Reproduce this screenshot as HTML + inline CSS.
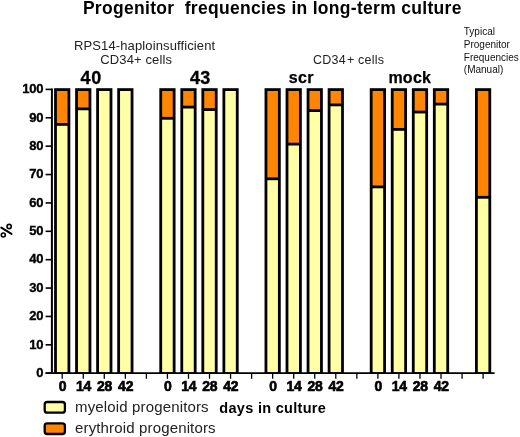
<!DOCTYPE html>
<html><head><meta charset="utf-8">
<style>
html,body{margin:0;padding:0;background:#fff;}
body{width:520px;height:437px;overflow:hidden;}
svg{display:block;will-change:transform;}
text{font-family:"Liberation Sans",sans-serif;fill:#000;}
.yl{font-size:13px;font-weight:bold;text-anchor:end;letter-spacing:-0.2px;stroke:#000;stroke-width:0.35px;}
.xl{font-size:15.5px;font-weight:bold;text-anchor:middle;letter-spacing:-0.2px;stroke:#000;stroke-width:0.7px;}
.t{font-size:17.5px;font-weight:bold;letter-spacing:0.3px;}
.s{font-size:13px;fill:#222;letter-spacing:0.12px;}
.s2{font-size:12.5px;fill:#222;letter-spacing:0.25px;}
.g{font-size:18px;font-weight:bold;stroke:#000;stroke-width:0.3px;}
.g2{font-size:16px;font-weight:bold;stroke:#000;stroke-width:0.25px;}
.m{font-size:10px;fill:#111;}
.lg{font-size:15px;fill:#222;letter-spacing:0.15px;}
.lb{font-size:14.5px;font-weight:bold;letter-spacing:0.3px;}
</style></head>
<body>
<svg width="520" height="437" viewBox="0 0 520 437">
<rect width="520" height="437" fill="#fff"/>
<text x="82.9" y="13.7" class="t" xml:space="preserve">Progenitor  frequencies in long-term culture</text>
<text x="74" y="50.4" class="s">RPS14-haploinsufficient</text>
<text x="100.3" y="64.2" class="s">CD34+ cells</text>
<text y="63.6" class="s2"><tspan x="312.9">CD34</tspan><tspan x="346.9">+</tspan><tspan x="358.1">cells</tspan></text>
<text x="463.8" y="35.3" class="m">Typical</text>
<text x="463.8" y="47.9" class="m">Progenitor</text>
<text x="463.8" y="60.5" class="m">Frequencies</text>
<text x="463.8" y="73.2" class="m">(Manual)</text>
<text x="80.6" y="83.5" class="g" letter-spacing="0.6">40</text>
<text x="189.9" y="83.6" class="g" letter-spacing="0.3">43</text>
<text x="288.7" y="83.1" class="g2" letter-spacing="0.4">scr</text>
<text x="388.4" y="82.5" class="g2" letter-spacing="0.25">mock</text>
<g fill="none" stroke="#000"><circle cx="9.15" cy="226.5" r="2.1" stroke-width="1.6"/><circle cx="3.3" cy="235" r="2.0" stroke-width="1.6"/><line x1="1.3" y1="227.6" x2="11.5" y2="233.9" stroke-width="1.9" stroke-linecap="round"/></g>
<rect x="54.1" y="88.2" width="16.2" height="285" fill="#000"/>
<rect x="56.9" y="91" width="10.6" height="32" fill="#ff8502"/>
<rect x="56.9" y="125.8" width="10.6" height="246.4" fill="#ffffa6"/>
<rect x="75.15" y="88.2" width="16.2" height="285" fill="#000"/>
<rect x="77.95" y="91" width="10.6" height="16.45" fill="#ff8502"/>
<rect x="77.95" y="110.25" width="10.6" height="261.95" fill="#ffffa6"/>
<rect x="96.19" y="88.2" width="16.2" height="285" fill="#000"/>
<rect x="98.99" y="91" width="10.6" height="281.2" fill="#ffffa6"/>
<rect x="117.24" y="88.2" width="16.2" height="285" fill="#000"/>
<rect x="120.04" y="91" width="10.6" height="281.2" fill="#ffffa6"/>
<rect x="159.33" y="88.2" width="16.2" height="285" fill="#000"/>
<rect x="162.13" y="91" width="10.6" height="25.9" fill="#ff8502"/>
<rect x="162.13" y="119.7" width="10.6" height="252.5" fill="#ffffa6"/>
<rect x="180.37" y="88.2" width="16.2" height="285" fill="#000"/>
<rect x="183.17" y="91" width="10.6" height="14.7" fill="#ff8502"/>
<rect x="183.17" y="108.5" width="10.6" height="263.7" fill="#ffffa6"/>
<rect x="201.41" y="88.2" width="16.2" height="285" fill="#000"/>
<rect x="204.22" y="91" width="10.6" height="17.2" fill="#ff8502"/>
<rect x="204.22" y="111" width="10.6" height="261.2" fill="#ffffa6"/>
<rect x="222.46" y="88.2" width="16.2" height="285" fill="#000"/>
<rect x="225.26" y="91" width="10.6" height="281.2" fill="#ffffa6"/>
<rect x="264.55" y="88.2" width="16.2" height="285" fill="#000"/>
<rect x="267.35" y="91" width="10.6" height="86.4" fill="#ff8502"/>
<rect x="267.35" y="180.2" width="10.6" height="192" fill="#ffffa6"/>
<rect x="285.6" y="88.2" width="16.2" height="285" fill="#000"/>
<rect x="288.4" y="91" width="10.6" height="51.7" fill="#ff8502"/>
<rect x="288.4" y="145.5" width="10.6" height="226.7" fill="#ffffa6"/>
<rect x="306.64" y="88.2" width="16.2" height="285" fill="#000"/>
<rect x="309.44" y="91" width="10.6" height="18.2" fill="#ff8502"/>
<rect x="309.44" y="112" width="10.6" height="260.2" fill="#ffffa6"/>
<rect x="327.69" y="88.2" width="16.2" height="285" fill="#000"/>
<rect x="330.49" y="91" width="10.6" height="12.5" fill="#ff8502"/>
<rect x="330.49" y="106.3" width="10.6" height="265.9" fill="#ffffa6"/>
<rect x="369.78" y="88.2" width="16.2" height="285" fill="#000"/>
<rect x="372.58" y="91" width="10.6" height="94.5" fill="#ff8502"/>
<rect x="372.58" y="188.3" width="10.6" height="183.9" fill="#ffffa6"/>
<rect x="390.82" y="88.2" width="16.2" height="285" fill="#000"/>
<rect x="393.62" y="91" width="10.6" height="37" fill="#ff8502"/>
<rect x="393.62" y="130.8" width="10.6" height="241.4" fill="#ffffa6"/>
<rect x="411.87" y="88.2" width="16.2" height="285" fill="#000"/>
<rect x="414.67" y="91" width="10.6" height="19.65" fill="#ff8502"/>
<rect x="414.67" y="113.45" width="10.6" height="258.75" fill="#ffffa6"/>
<rect x="432.91" y="88.2" width="16.2" height="285" fill="#000"/>
<rect x="435.71" y="91" width="10.6" height="11.7" fill="#ff8502"/>
<rect x="435.71" y="105.5" width="10.6" height="266.7" fill="#ffffa6"/>
<rect x="475" y="88.2" width="16.2" height="285" fill="#000"/>
<rect x="477.8" y="91" width="10.6" height="104.9" fill="#ff8502"/>
<rect x="477.8" y="198.7" width="10.6" height="173.5" fill="#ffffa6"/>
<line x1="51.9" y1="88.5" x2="51.9" y2="373.2" stroke="#000" stroke-width="2"/>
<line x1="45.6" y1="373.2" x2="494.6" y2="373.2" stroke="#000" stroke-width="1.8"/>
<line x1="45.6" y1="89.4" x2="51.9" y2="89.4" stroke="#000" stroke-width="1.6"/>
<text x="43.4" y="93.2" class="yl">100</text>
<line x1="45.6" y1="117.78" x2="51.9" y2="117.78" stroke="#000" stroke-width="1.6"/>
<text x="43.4" y="121.58" class="yl">90</text>
<line x1="45.6" y1="146.16" x2="51.9" y2="146.16" stroke="#000" stroke-width="1.6"/>
<text x="43.4" y="149.96" class="yl">80</text>
<line x1="45.6" y1="174.54" x2="51.9" y2="174.54" stroke="#000" stroke-width="1.6"/>
<text x="43.4" y="178.34" class="yl">70</text>
<line x1="45.6" y1="202.92" x2="51.9" y2="202.92" stroke="#000" stroke-width="1.6"/>
<text x="43.4" y="206.72" class="yl">60</text>
<line x1="45.6" y1="231.3" x2="51.9" y2="231.3" stroke="#000" stroke-width="1.6"/>
<text x="43.4" y="235.1" class="yl">50</text>
<line x1="45.6" y1="259.68" x2="51.9" y2="259.68" stroke="#000" stroke-width="1.6"/>
<text x="43.4" y="263.48" class="yl">40</text>
<line x1="45.6" y1="288.06" x2="51.9" y2="288.06" stroke="#000" stroke-width="1.6"/>
<text x="43.4" y="291.86" class="yl">30</text>
<line x1="45.6" y1="316.44" x2="51.9" y2="316.44" stroke="#000" stroke-width="1.6"/>
<text x="43.4" y="320.24" class="yl">20</text>
<line x1="45.6" y1="344.82" x2="51.9" y2="344.82" stroke="#000" stroke-width="1.6"/>
<text x="43.4" y="348.62" class="yl">10</text>
<line x1="45.6" y1="373.2" x2="51.9" y2="373.2" stroke="#000" stroke-width="1.6"/>
<text x="43.4" y="377" class="yl">0</text>
<line x1="62.2" y1="373.2" x2="62.2" y2="378.8" stroke="#000" stroke-width="1.3"/>
<text transform="translate(62.5,391.4) scale(0.9,1)" class="xl">0</text>
<line x1="83.25" y1="373.2" x2="83.25" y2="378.8" stroke="#000" stroke-width="1.3"/>
<text transform="translate(83.55,391.4) scale(0.9,1)" class="xl">14</text>
<line x1="104.29" y1="373.2" x2="104.29" y2="378.8" stroke="#000" stroke-width="1.3"/>
<text transform="translate(104.59,391.4) scale(0.9,1)" class="xl">28</text>
<line x1="125.34" y1="373.2" x2="125.34" y2="378.8" stroke="#000" stroke-width="1.3"/>
<text transform="translate(125.64,391.4) scale(0.9,1)" class="xl">42</text>
<line x1="146.38" y1="373.2" x2="146.38" y2="378.8" stroke="#000" stroke-width="1.3"/>
<line x1="167.43" y1="373.2" x2="167.43" y2="378.8" stroke="#000" stroke-width="1.3"/>
<text transform="translate(167.73,391.4) scale(0.9,1)" class="xl">0</text>
<line x1="188.47" y1="373.2" x2="188.47" y2="378.8" stroke="#000" stroke-width="1.3"/>
<text transform="translate(188.77,391.4) scale(0.9,1)" class="xl">14</text>
<line x1="209.51" y1="373.2" x2="209.51" y2="378.8" stroke="#000" stroke-width="1.3"/>
<text transform="translate(209.81,391.4) scale(0.9,1)" class="xl">28</text>
<line x1="230.56" y1="373.2" x2="230.56" y2="378.8" stroke="#000" stroke-width="1.3"/>
<text transform="translate(230.86,391.4) scale(0.9,1)" class="xl">42</text>
<line x1="251.61" y1="373.2" x2="251.61" y2="378.8" stroke="#000" stroke-width="1.3"/>
<line x1="272.65" y1="373.2" x2="272.65" y2="378.8" stroke="#000" stroke-width="1.3"/>
<text transform="translate(272.95,391.4) scale(0.9,1)" class="xl">0</text>
<line x1="293.7" y1="373.2" x2="293.7" y2="378.8" stroke="#000" stroke-width="1.3"/>
<text transform="translate(294,391.4) scale(0.9,1)" class="xl">14</text>
<line x1="314.74" y1="373.2" x2="314.74" y2="378.8" stroke="#000" stroke-width="1.3"/>
<text transform="translate(315.04,391.4) scale(0.9,1)" class="xl">28</text>
<line x1="335.79" y1="373.2" x2="335.79" y2="378.8" stroke="#000" stroke-width="1.3"/>
<text transform="translate(336.09,391.4) scale(0.9,1)" class="xl">42</text>
<line x1="356.83" y1="373.2" x2="356.83" y2="378.8" stroke="#000" stroke-width="1.3"/>
<line x1="377.88" y1="373.2" x2="377.88" y2="378.8" stroke="#000" stroke-width="1.3"/>
<text transform="translate(378.18,391.4) scale(0.9,1)" class="xl">0</text>
<line x1="398.92" y1="373.2" x2="398.92" y2="378.8" stroke="#000" stroke-width="1.3"/>
<text transform="translate(399.22,391.4) scale(0.9,1)" class="xl">14</text>
<line x1="419.97" y1="373.2" x2="419.97" y2="378.8" stroke="#000" stroke-width="1.3"/>
<text transform="translate(420.27,391.4) scale(0.9,1)" class="xl">28</text>
<line x1="441.01" y1="373.2" x2="441.01" y2="378.8" stroke="#000" stroke-width="1.3"/>
<text transform="translate(441.31,391.4) scale(0.9,1)" class="xl">42</text>
<line x1="462.06" y1="373.2" x2="462.06" y2="378.8" stroke="#000" stroke-width="1.3"/>
<line x1="483.1" y1="373.2" x2="483.1" y2="378.8" stroke="#000" stroke-width="1.3"/>
<rect x="44.7" y="402" width="20.2" height="10.7" rx="2.5" fill="#ffffa6" stroke="#000" stroke-width="2.3"/>
<rect x="44.7" y="423.3" width="20.2" height="10.7" rx="2.5" fill="#ff8502" stroke="#000" stroke-width="2.3"/>
<text x="75" y="412.3" class="lg">myeloid progenitors</text>
<text x="75" y="432.7" class="lg" letter-spacing="0.25">erythroid progenitors</text>
<text x="219.3" y="412.5" class="lb">days in culture</text>
</svg>
</body></html>
